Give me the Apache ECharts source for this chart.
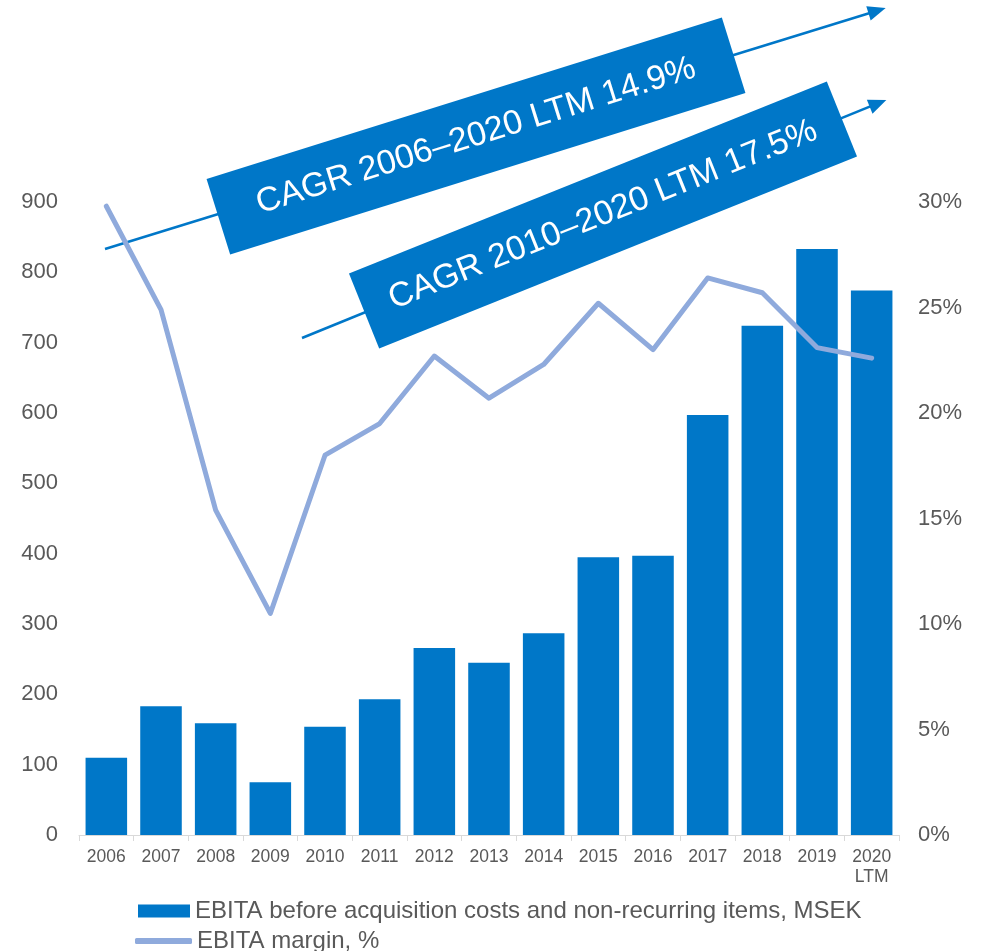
<!DOCTYPE html>
<html>
<head>
<meta charset="utf-8">
<title>EBITA</title>
<script src="https://cdn.jsdelivr.net/npm/echarts@6/dist/echarts.min.js"></script>
<style>
  html, body { margin: 0; padding: 0; background: #fff; }
  #chart { width: 984px; height: 951px; }
</style>
</head>
<body>
<div id="chart"></div>
<script>
  // data
  const years = ['2006', '2007', '2008', '2009', '2010', '2011', '2012', '2013', '2014', '2015', '2016', '2017', '2018', '2019', '2020\nLTM']
  const ebita = [110, 183, 159, 75, 154, 193, 266, 245, 287, 395, 397, 597, 724, 833, 774]
  const margin = [29.8, 24.9, 15.4, 10.5, 18.0, 19.5, 22.7, 20.7, 22.3, 25.2, 23.0, 26.4, 25.7, 23.1, 22.6]
  const cagrLabels = ['CAGR 2006\u20132020 LTM 14.9%', 'CAGR 2010\u20132020 LTM 17.5%']
  const barName = 'EBITA before acquisition costs and non-recurring items, MSEK'
  const lineName = 'EBITA margin, %'

  const blue = '#0077C8'
  const lightBlue = '#8FAADC'
  const grey = '#595959'
  const font = '"Liberation Sans", Arial, sans-serif'

  const deg = d => d * Math.PI / 180

  // arrow = line + triangle head, drawn in a rotated group
  function arrow(x, y, len, angle) {
    return {
      type: 'group', x: x, y: y, rotation: deg(angle), z: 10,
      children: [
        { type: 'line', shape: { x1: 0, y1: 0, x2: len - 14, y2: 0 }, style: { stroke: blue, lineWidth: 2.5 } },
        { type: 'polygon', shape: { points: [[len, 0], [len - 18, -7.5], [len - 18, 7.5]] }, style: { fill: blue } }
      ]
    }
  }

  function box(cx, cy, w, h, angle, text) {
    return {
      type: 'group', x: cx, y: cy, rotation: deg(angle), z: 20,
      children: [
        { type: 'rect', shape: { x: -w / 2, y: -h / 2, width: w, height: h }, style: { fill: blue } },
        {
          type: 'text', x: 0, y: 0,
          style: { text: text, fill: '#fff', font: '34px ' + font, align: 'center', verticalAlign: 'middle' }
        }
      ]
    }
  }

  const legendText = { fontSize: 24, color: grey, fontFamily: font }

  const chart = echarts.init(document.getElementById('chart'))
  chart.setOption({
    animation: false,
    textStyle: { fontFamily: font },
    grid: { left: 79, right: 85, top: 202, bottom: 116 },
    legend: [
      {
        left: 133, top: 894,
        itemWidth: 52, itemHeight: 13,
        textStyle: legendText,
        data: [{ name: barName, icon: 'rect' }]
      },
      {
        left: 130, top: 924,
        itemWidth: 57, itemHeight: 6,
        textStyle: legendText,
        data: [{ name: lineName, icon: 'roundRect' }]
      }
    ],
    xAxis: {
      type: 'category',
      data: years,
      axisLine: { lineStyle: { color: '#D9D9D9', width: 1 } },
      axisTick: { show: true, length: 6, lineStyle: { color: '#D9D9D9' } },
      axisLabel: { color: grey, fontSize: 17.5, margin: 12, lineHeight: 20 }
    },
    yAxis: [
      {
        type: 'value', min: 0, max: 900, interval: 100,
        axisLine: { show: false }, axisTick: { show: false }, splitLine: { show: false },
        axisLabel: { color: grey, fontSize: 22, margin: 21 }
      },
      {
        type: 'value', min: 0, max: 30, interval: 5,
        axisLine: { show: false }, axisTick: { show: false }, splitLine: { show: false },
        axisLabel: { color: grey, fontSize: 22, margin: 19, formatter: '{value}%' }
      }
    ],
    series: [
      {
        name: barName,
        type: 'bar',
        data: ebita,
        barCategoryGap: '24%',
        itemStyle: { color: blue }
      },
      {
        name: lineName,
        type: 'line',
        yAxisIndex: 1,
        data: margin,
        symbol: 'none',
        z: 5,
        lineStyle: { color: lightBlue, width: 5, cap: 'round', join: 'round' },
        itemStyle: { color: lightBlue }
      }
    ],
    graphic: [
      arrow(105, 249, 817, 17.15),
      arrow(302, 338, 631, 22.17),
      box(476, 136, 540, 79, 17.4, cagrLabels[0]),
      box(603, 215, 515, 81, 21.9, cagrLabels[1])
    ]
  })
</script>
</body>
</html>
